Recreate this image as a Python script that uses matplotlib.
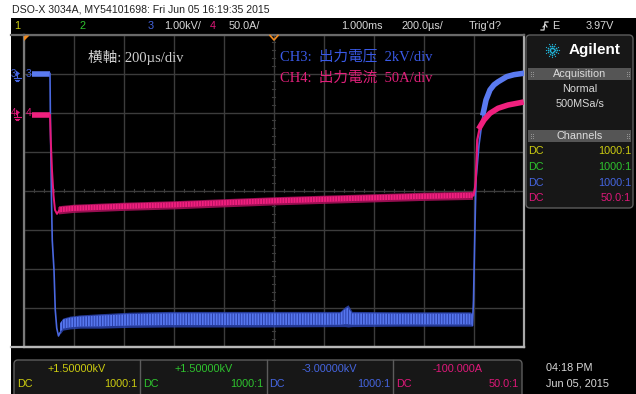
import matplotlib
matplotlib.use("Agg")
import matplotlib.pyplot as plt
from matplotlib.patches import Rectangle, FancyBboxPatch, Polygon
import numpy as np

# ---------------- data ----------------
# CH3 output voltage (kV), time in microseconds
ch3_step_t = [34, 106, 108, 112, 115, 122, 127, 133, 140, 146]
ch3_step_v = [0.0, 0.0, -1.45, -3.24, -4.27, -5.04, -6.06, -6.53, -6.73, -6.65]
ch3_rise_t = [1796, 1800, 1804, 1810, 1822, 1839, 1850, 1866, 1882, 1899, 1933, 1962, 1994]
ch3_rise_v = [-6.45, -5.81, -4.53, -2.73, -1.83, -1.01, -0.68, -0.42, -0.29, -0.21, -0.08, -0.03, 0.0]
ch3_band_t = [146, 158, 186, 226, 306, 426, 586, 746, 946, 1266, 1286, 1298, 1314, 1506, 1666, 1786, 1796]
ch3_band_hi = [-6.37, -6.27, -6.22, -6.19, -6.16, -6.12, -6.10, -6.10, -6.10, -6.10, -5.98, -5.93, -6.10, -6.11, -6.11, -6.11, -6.14]
ch3_band_lo = [-6.68, -6.58, -6.55, -6.53, -6.53, -6.51, -6.50, -6.50, -6.50, -6.49, -6.49, -6.50, -6.49, -6.48, -6.48, -6.48, -6.48]

# CH4 output current (A)
ch4_step_t = [34, 106, 109, 114, 120, 126, 134, 142]
ch4_step_i = [-3, -3, -35, -74, -106, -125, -130, -126]
ch4_rise_t = [1796, 1800, 1806, 1809, 1812, 1815, 1826, 1842, 1866, 1898, 1938, 1990]
ch4_rise_i = [-106.5, -106.4, -96.8, -86.5, -60.9, -35.3, -18.2, -9.6, -1.0, 5.4, 9.6, 12.8]
ch4_band_t = [140, 200, 400, 600, 800, 1000, 1200, 1400, 1600, 1796]
ch4_band_hi = [-119.5, -117.6, -115.0, -113.1, -110.5, -108.0, -106.0, -104.1, -102.2, -100.9]
ch4_band_lo = [-130.0, -128.1, -125.5, -123.6, -121.0, -118.5, -116.5, -114.6, -112.7, -111.4]

# scope settings
time_per_div = 200          # us/div
ch3_per_div, ch3_offset = 1.0, -3.0     # kV
ch4_per_div, ch4_offset = 50.0, -100.0  # A

header_labels = ["1", "2", "3", "1.00kV/", "4", "50.0A/", "1.000ms", "200.0\u00b5s/", "Trig'd?", "E", "3.97V"]
channel_ratios = ["1000:1", "1000:1", "1000:1", "50.0:1"]
channel_offsets = ["+1.50000kV", "+1.50000kV", "-3.00000kV", "-100.000A"]

# ---------------- colours & fonts ----------------
YEL, GRN, BLU, PNK = "#cccc10", "#2ec42e", "#4565e0", "#e0187a"
TXT = "#d8d8d8"
UI_FONT = ["Liberation Sans Narrow", "Liberation Sans", "DejaVu Sans"]
SERIF_CJK = ["Liberation Serif", "Noto Sans CJK JP", "DejaVu Sans"]

plt.rcParams["hatch.linewidth"] = 0.7

W, H = 636, 394
fig = plt.figure(figsize=(W / 100, H / 100), dpi=100, facecolor="white")

# pixel-space canvas for the instrument frame
ui = fig.add_axes([0, 0, 1, 1], zorder=0)
ui.set_xlim(0, W)
ui.set_ylim(H, 0)
ui.axis("off")

ui.add_patch(Rectangle((11, 18), W - 11, H - 18, color="black", lw=0))
ui.text(12, 9, "DSO-X 3034A, MY54101698: Fri Jun 05 16:19:35 2015", fontsize=7.6,
        family=UI_FONT, color="#222222", va="center", ha="left")

# header row
hx = [14, 79, 148, 164, 210, 229, 341, 402, 469, 552, 586]
hc = [YEL, GRN, BLU, TXT, PNK, TXT, TXT, TXT, TXT, TXT, TXT]
for x, lab, c in zip(hx, header_labels, hc):
    ui.text(x, 26, lab, fontsize=7.8, family=UI_FONT, color=c, va="center", ha="left")
ui.plot([541, 544, 545, 548], [30, 30, 22, 22], color=TXT, lw=0.9)
ui.plot([543, 545.5, 547], [27, 24.5, 27], color=TXT, lw=0.8)

# ---------------- graticule & traces ----------------
left, right, top, bottom = 23.5, 523.5, 34.5, 346.5
ax = fig.add_axes([left / W, (H - bottom) / H, (right - left) / W, (bottom - top) / H], zorder=1)
ax.set_facecolor("none")
ax.set_xlim(0, 10 * time_per_div)
ax.set_ylim(ch3_offset - 4 * ch3_per_div, ch3_offset + 4 * ch3_per_div)
ax.set_xticks(np.arange(0, 10 * time_per_div + 1, time_per_div))
ax.set_yticks(np.arange(ch3_offset - 4 * ch3_per_div, ch3_offset + 4 * ch3_per_div + 0.01, ch3_per_div))
ax.grid(True, color="#3c3c3c", lw=1.0)
ax.tick_params(length=0, labelleft=False, labelbottom=False)
for s, c in zip(["left", "top", "right", "bottom"], ["#7a7a7a", "#6a6a6a", "#a8a8a8", "#b8b8b8"]):
    ax.spines[s].set_color(c)
    ax.spines[s].set_linewidth(1.6)
ax.set_axisbelow(True)

# minor ticks along the centre cross
cx, cy = 5 * time_per_div, ch3_offset
for k in range(-20, 21):
    yy = cy + k * ch3_per_div / 5
    ax.plot([cx - 6, cx + 6], [yy, yy], color="#3c3c3c", lw=0.8, zorder=1)
for k in range(-25, 26):
    xx = cx + k * time_per_div / 5
    ax.plot([xx, xx], [cy - 0.04, cy + 0.04], color="#3c3c3c", lw=0.8, zorder=1)

ax4 = ax.twinx()
ax4.set_zorder(2)
ax4.set_facecolor("none")
ax4.set_ylim(ch4_offset - 4 * ch4_per_div, ch4_offset + 4 * ch4_per_div)
ax4.tick_params(length=0, labelright=False)
for s in ax4.spines.values():
    s.set_visible(False)

# CH3 trace
hi3, lo3 = np.array(ch3_band_hi), np.array(ch3_band_lo)
ax.fill_between(ch3_band_t, hi3, lo3, color="#2c44b0", alpha=0.85, lw=0, zorder=3)
mid3 = (hi3 + lo3) / 2
ax.fill_between(ch3_band_t, mid3 + (hi3 - mid3) * 0.75, mid3 + (lo3 - mid3) * 0.75,
                facecolor="#5676ee", edgecolor="#2a40a8", hatch="||||||", lw=0, zorder=4)
ax.plot(ch3_step_t[:2], ch3_step_v[:2], color="#5a7af0", lw=4, solid_capstyle="butt", zorder=4)
ax.plot(ch3_step_t[1:], ch3_step_v[1:], color="#4a68e0", lw=1.2, zorder=4)
ax.plot(ch3_rise_t, ch3_rise_v, color="#4a68e0", lw=1.2, zorder=4)
ax.plot(ch3_rise_t[5:], ch3_rise_v[5:], color="#5a7af0", lw=4, zorder=4)

# CH4 trace
hi4, lo4 = np.array(ch4_band_hi), np.array(ch4_band_lo)
ax4.fill_between(ch4_band_t, hi4, lo4, color="#a8105a", alpha=0.9, lw=0, zorder=3)
mid4 = (hi4 + lo4) / 2
ax4.fill_between(ch4_band_t, mid4 + (hi4 - mid4) * 0.65, mid4 + (lo4 - mid4) * 0.65,
                 facecolor="#f0207e", edgecolor="#b81062", hatch="||||||", lw=0, zorder=4)
ax4.plot(ch4_step_t[:2], ch4_step_i[:2], color="#f0207e", lw=4, solid_capstyle="butt", zorder=4)
ax4.plot(ch4_step_t[1:], ch4_step_i[1:], color="#e8187a", lw=1.4, zorder=4)
ax4.plot(ch4_rise_t, ch4_rise_i, color="#e8187a", lw=1.6, zorder=4)
ax4.plot(ch4_rise_t[6:], ch4_rise_i[6:], color="#f0207e", lw=4, zorder=4)

# ---------------- overlay marks and annotations ----------------
ov = fig.add_axes([0, 0, 1, 1], zorder=5)
ov.set_xlim(0, W)
ov.set_ylim(H, 0)
ov.axis("off")
ov.patch.set_visible(False)

ov.plot([11, right], [346.5, 346.5], color="#b8b8b8", lw=1.6)
ov.plot([11, left], [34.5, 34.5], color="#6a6a6a", lw=1.6)
ov.add_patch(Polygon([[24, 35.5], [29.5, 35.5], [24, 41]], closed=True, color="#f08a20", lw=0))
ov.plot([270, 274, 278], [35.5, 40, 35.5], color="#f08a20", lw=1.2)

def ground_marker(y, num, color):
    ov.text(11, y, num, fontsize=7, family=UI_FONT, color=color, va="center", ha="left")
    ov.add_patch(Polygon([[16, y - 3], [20, y], [16, y + 3]], closed=True, color=color, lw=0))
    ov.plot([17, 17], [y, y + 4], color=color, lw=0.8)
    for w, dy in [(3.5, 4.5), (2.3, 6), (1.1, 7.5)]:
        ov.plot([17 - w, 17 + w], [y + dy, y + dy], color=color, lw=0.8)
    ov.text(26, y, num, fontsize=7.5, family=UI_FONT, color=color, va="center", ha="left")

ground_marker(73.5, "3", BLU)
ground_marker(112.5, "4", PNK)

ov.text(88, 57, "横軸: 200\u00b5s/div", fontsize=10.5, family=SERIF_CJK, color="#d0d0d0",
        va="center", ha="left")
ov.text(280, 57, "CH3:  出力電压  2kV/div", fontsize=10.5, family=SERIF_CJK, color="#3a5ae8",
        va="center", ha="left")
ov.text(280, 78, "CH4:  出力電流  50A/div", fontsize=10.5, family=SERIF_CJK, color="#e0207a",
        va="center", ha="left")

# ---------------- side panel ----------------
ov.add_patch(FancyBboxPatch((526, 35), 107, 173, boxstyle="round,pad=0,rounding_size=4",
                            fc="#171717", ec="#5c5c5c", lw=1.0))
# logo burst
for a in np.arange(0, 2 * np.pi, np.pi / 6):
    for r in (2.5, 4.5, 6.5):
        ov.plot(552 + r * np.cos(a), 50 + r * np.sin(a), "o", ms=1.2 if r < 6 else 0.9,
                color="#20b4d8", mew=0)
ov.text(569, 50, "Agilent", fontsize=11, family=["Liberation Sans", "DejaVu Sans"],
        weight="bold", color="white", va="center", ha="left")

def panel_bar(y0, y1, label):
    ov.add_patch(Rectangle((528, y0), 103, y1 - y0, color="#555555", lw=0))
    ov.text(580, (y0 + y1) / 2, label, fontsize=7.8, family=UI_FONT, color="#dcdcdc",
            va="center", ha="center")
    for gx in (531, 627):
        for gy in (-2, 0, 2):
            for dx in (0, 2):
                ov.plot(gx + dx, (y0 + y1) / 2 + gy, "s", ms=0.6, color="#999999", mew=0)

panel_bar(68, 79.5, "Acquisition")
ov.text(580, 89, "Normal", fontsize=7.8, family=UI_FONT, color=TXT, va="center", ha="center")
ov.text(580, 104, "500MSa/s", fontsize=7.8, family=UI_FONT, color=TXT, va="center", ha="center")
panel_bar(130, 142, "Channels")
for yy, c, r in zip([151, 167, 183, 198], [YEL, GRN, BLU, PNK], channel_ratios):
    ov.text(528, yy, "DC", fontsize=7.8, family=UI_FONT, color=c, va="center", ha="left")
    ov.text(631, yy, r, fontsize=7.8, family=UI_FONT, color=c, va="center", ha="right")

# ---------------- bottom channel boxes ----------------
ov.add_patch(FancyBboxPatch((14, 360), 508, 40, boxstyle="round,pad=0,rounding_size=4",
                            fc="#171717", ec="#5c5c5c", lw=1.0, clip_on=True))
edges = [14, 140, 266.5, 393, 522]
for xd in edges[1:-1]:
    ov.plot([xd, xd], [360, 394], color="#5c5c5c", lw=1.0)
for i, (c, off, r) in enumerate(zip([YEL, GRN, BLU, PNK], channel_offsets, channel_ratios)):
    x0, x1 = edges[i], edges[i + 1]
    ov.text((x0 + x1) / 2, 369, off, fontsize=7.8, family=UI_FONT, color=c, va="center", ha="center")
    ov.text(x0 + 3, 384, "DC", fontsize=7.8, family=UI_FONT, color=c, va="center", ha="left")
    ov.text(x1 - 3, 384, r, fontsize=7.8, family=UI_FONT, color=c, va="center", ha="right")

ov.text(569, 368, "04:18 PM", fontsize=7.8, family=UI_FONT, color=TXT, va="center", ha="center")
ov.text(578, 384, "Jun 05, 2015", fontsize=7.8, family=UI_FONT, color=TXT, va="center", ha="center")

fig.savefig("out.png", dpi=100, facecolor="white")
